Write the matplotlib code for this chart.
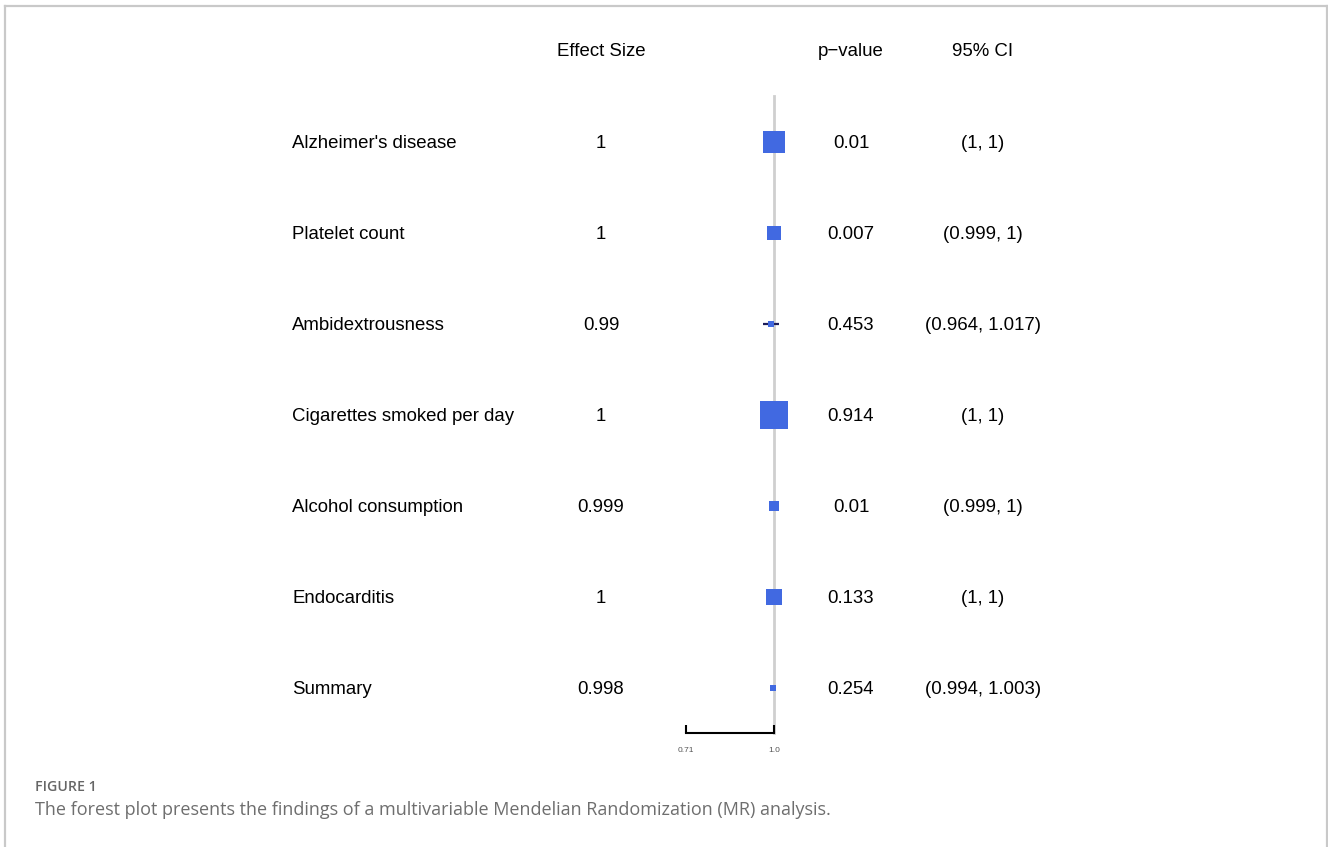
import matplotlib
matplotlib.use('Agg')
import matplotlib.pyplot as plt
import matplotlib.transforms as mtransforms
from matplotlib.lines import Line2D

# forest plot rows (top to bottom)
outcomes = ["Alzheimer's disease", "Platelet count", "Ambidextrousness",
            "Cigarettes smoked per day", "Alcohol consumption", "Endocarditis",
            "Summary"]
effect = [1.0, 1.0, 0.99, 1.0, 0.999, 1.0, 0.998]
effect_txt = ["1", "1", "0.99", "1", "0.999", "1", "0.998"]
p_txt = ["0.01", "0.007", "0.453", "0.914", "0.01", "0.133", "0.254"]
ci_low = [1.0, 0.999, 0.964, 1.0, 0.999, 1.0, 0.994]
ci_high = [1.0, 1.0, 1.017, 1.0, 1.0, 1.0, 1.003]
ci_txt = ["(1, 1)", "(0.999, 1)", "(0.964, 1.017)", "(1, 1)", "(0.999, 1)",
          "(1, 1)", "(0.994, 1.003)"]
x_ticks = [0.71, 1.0]
x_ticklabels = ["0.71", "1.0"]

# square size per row (points), reflecting the study weight
box_size = [16.5, 10.5, 5.0, 20.5, 7.5, 11.5, 5.0]

W, H = 1328, 847
fig = plt.figure(figsize=(W / 100, H / 100), dpi=100)
fig.patch.set_facecolor('white')

def fx(px):
    return px / W

def fy(py):
    return 1 - py / H

# open-bottom frame around the figure panel
frame_col = '#c9c9c9'
fig.add_artist(Line2D([fx(4.5), fx(4.5)], [fy(6), 0], color=frame_col, lw=1.6))
fig.add_artist(Line2D([fx(4.5), fx(1327)], [fy(6), fy(6)], color=frame_col, lw=1.6))
fig.add_artist(Line2D([fx(1327), fx(1327)], [fy(6), 0], color=frame_col, lw=1.6))

# forest panel: x in effect units, y in row index
x0, x1 = 686, 774
top, bottom = 96, 733
ax = fig.add_axes([fx(x0), fy(bottom), (x1 - x0) / W, (bottom - top) / H])
n = len(outcomes)
ax.set_xlim(x_ticks[0], x_ticks[-1])
ax.set_ylim(n - 0.5, -0.5)
ax.patch.set_alpha(0)
for s in ['top', 'left', 'right']:
    ax.spines[s].set_visible(False)
ax.spines['bottom'].set_linewidth(1.5)
ax.spines['bottom'].set_color('black')
ax.set_yticks([])
ax.set_xticks(x_ticks)
ax.set_xticklabels(x_ticklabels, fontsize=6, color='#555555',
                   family='Liberation Sans')
ax.tick_params(axis='x', direction='in', length=6, width=1.5, pad=10)

ax.axvline(1.0, color='#cfcfcf', lw=2, zorder=1, clip_on=False)
rows = list(range(n))
ax.hlines(rows, ci_low, ci_high, color='#1c1c5a', lw=1.6, zorder=2, clip_on=False)
for r, e, s in zip(rows, effect, box_size):
    ax.plot([e], [r], marker='s', ms=s, color='#4169e1', mec='#4169e1',
            mew=0, zorder=3, clip_on=False)

# text columns, sharing row positions with the forest panel
txt = dict(fontsize=13.4, family='Liberation Sans', color='black', va='center')
tr = mtransforms.blended_transform_factory(fig.transFigure, ax.transData)
tr = mtransforms.offset_copy(tr, fig=fig, y=-1.5, units='points')
for r in rows:
    ax.text(fx(292), r, outcomes[r], transform=tr, ha='left', **txt)
    ax.text(fx(601), r, effect_txt[r], transform=tr, ha='center', **txt)
    ax.text(fx(851), r, p_txt[r], transform=tr, ha='center', **txt)
    ax.text(fx(983), r, ci_txt[r], transform=tr, ha='center', **txt)

fig.text(fx(601), fy(52), "Effect Size", ha='center', **txt)
fig.text(fx(851), fy(52), "p\u2212value", ha='center', **txt)
fig.text(fx(983), fy(52), "95% CI", ha='center', **txt)

# caption
fig.text(fx(35), fy(787), "FIGURE 1", ha='left', va='center', fontsize=10.2,
         family='Open Sans', fontweight='semibold', color='#666666')
fig.text(fx(35), fy(810), "The forest plot presents the findings of a multivariable "
         "Mendelian Randomization (MR) analysis.", ha='left', va='center',
         fontsize=13.0, family='Open Sans', color='#6e6e6e')

fig.savefig('out.png', dpi=100, facecolor='white')
